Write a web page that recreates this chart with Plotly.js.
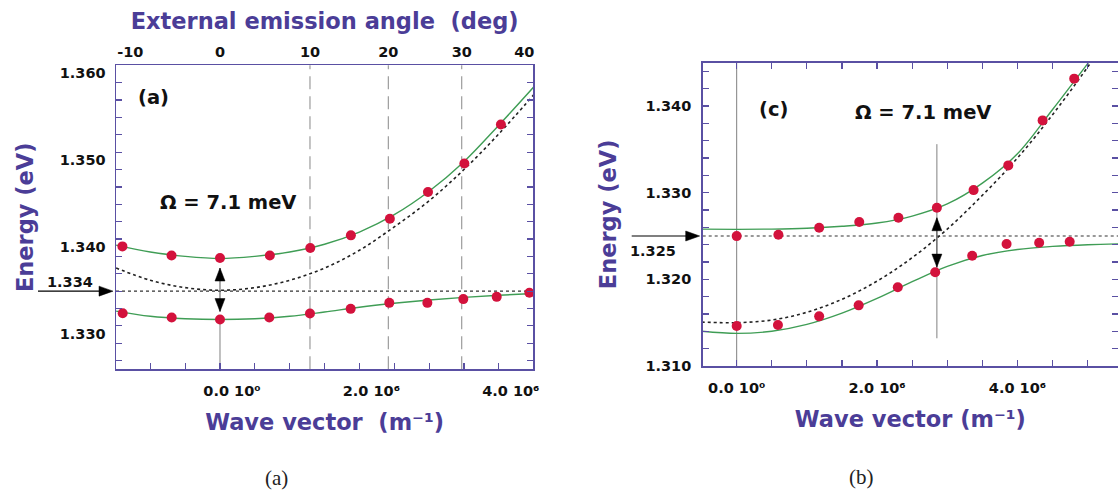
<!DOCTYPE html>
<html>
<head>
<meta charset="utf-8">
<script src="https://cdn.plot.ly/plotly-3.0.1.min.js"></script>
<style>
  html, body { margin: 0; padding: 0; background: #ffffff; }
  #chart { width: 1118px; height: 493px; }
</style>
</head>
<body>
<div id="chart"></div>
<script>
// Wave vectors are given in units of 10^6 m^-1, energies in eV.

// ---------- Panel (a) ----------
const waveVectorUpperA = [-1.400, -0.695, 0.000, 0.715, 1.295, 1.878, 2.437, 2.984, 3.506, 4.030];
const energyUpperA     = [1.33915, 1.33811, 1.33781, 1.33811, 1.33896, 1.34042, 1.34234, 1.34542, 1.34869, 1.35318];
const waveVectorLowerA = [-1.396, -0.693, 0.000, 0.707, 1.291, 1.875, 2.429, 2.975, 3.491, 3.970, 4.439];
const energyLowerA     = [1.33146, 1.33096, 1.33073, 1.33096, 1.33142, 1.33196, 1.33265, 1.33265, 1.33308, 1.33334, 1.33381];

const waveVectorFitA = [-1.49, -1.0, -0.5, 0.0, 0.5, 1.0, 1.5, 2.0, 2.5, 3.0, 3.5, 4.0, 4.5];
const upperFitA      = [1.33930, 1.33850, 1.33800, 1.33775, 1.33800, 1.33850, 1.33940, 1.34080, 1.34280, 1.34550, 1.34890, 1.35310, 1.35750];
const lowerFitA      = [1.33170, 1.33110, 1.33082, 1.33073, 1.33082, 1.33110, 1.33160, 1.33215, 1.33260, 1.33298, 1.33328, 1.33352, 1.33373];
const cavityFitA     = [1.33666, 1.33525, 1.33440, 1.33410, 1.33440, 1.33525, 1.33665, 1.33870, 1.34140, 1.34440, 1.34800, 1.35210, 1.35660];

const excitonA = 1.334;
const angleLabelsA = ['-10', '0', '10', '20', '30', '40'];
const angleWaveVectorA = [-1.286, 0.0, 1.291, 2.415, 3.468, 4.366];
const guideAnglesA = ['10', '20', '30'];

// ---------- Panel (b) ----------
const waveVectorUpperB = [0.000, 0.594, 1.175, 1.746, 2.304, 2.852, 3.375, 3.869, 4.358, 4.808];
const energyUpperB     = [1.32499, 1.32515, 1.32596, 1.32661, 1.32711, 1.32827, 1.33030, 1.33315, 1.33834, 1.34316];
const waveVectorLowerB = [0.000, 0.588, 1.175, 1.738, 2.295, 2.828, 3.355, 3.845, 4.309, 4.744];
const energyLowerB     = [1.31461, 1.31473, 1.31573, 1.31700, 1.31908, 1.32081, 1.32272, 1.32407, 1.32422, 1.32434];

const waveVectorFitB = [-0.5, 0.0, 0.5, 1.0, 1.5, 2.0, 2.5, 3.0, 3.5, 4.0, 4.5, 5.0, 5.5];
const upperFitB      = [1.32579, 1.32577, 1.32580, 1.32590, 1.32612, 1.32650, 1.32730, 1.32870, 1.33110, 1.33450, 1.33960, 1.34490, 1.35030];
const lowerFitB      = [1.31401, 1.31377, 1.31401, 1.31480, 1.31610, 1.31780, 1.31973, 1.32150, 1.32275, 1.32345, 1.32380, 1.32400, 1.32410];
const cavityFitB     = [1.31507, 1.31500, 1.31530, 1.31620, 1.31770, 1.31980, 1.32250, 1.32580, 1.32970, 1.33400, 1.33900, 1.34450, 1.35050];

const excitonB = 1.325;
const resonanceLineB = { k: 2.852, from: 1.3132, to: 1.3356 };

// ---------- Shared text ----------
const rabiLabel = '\u03A9 = 7.1 meV';
const waveVectorTickValues = [0, 2, 4];
const waveVectorTickLabels = ['0.0 10\u2070', '2.0 10\u2076', '4.0 10\u2076'];
const energyTickValuesA = [1.330, 1.340, 1.350, 1.360];
const energyTickValuesB = [1.310, 1.320, 1.330, 1.340];

// ---------- Styling ----------
const W = 1118, H = 493;
const frameColor = '#5a50a3';
const titleColor = '#4b3d97';
const dotColor = '#d3123c';
const fitColor = '#3f9d55';
const sans = 'DejaVu Sans, Liberation Sans, Arial, sans-serif';
const tickFont = { family: sans, size: 14.5, color: '#111111', weight: 700 };
const titleFont = { family: sans, size: 22.5, color: titleColor, weight: 700 };
const noteFont = { family: sans, size: 19.5, color: '#111111', weight: 700 };
const serif = { family: 'Liberation Serif, Times New Roman, serif', size: 21, color: '#222222' };

// pixel box of each plotting frame
const boxA = { left: 116, right: 533.3, top: 65.3, bottom: 369.3 };
const boxB = { left: 702.7, right: 1118, top: 62.7, bottom: 366.0 };
const rangeXA = [-1.492, 4.495], rangeYA = [1.325, 1.360];
const rangeXB = [-0.484, 5.432], rangeYB = [1.310, 1.345];

function domX(b) { return [b.left / W, b.right / W]; }
function domY(b) { return [1 - b.bottom / H, 1 - b.top / H]; }

function baseAxis(extra) {
  return Object.assign({
    showgrid: false, zeroline: false, showline: true,
    linecolor: frameColor, linewidth: 1.5,
    ticks: 'inside', ticklen: 6, tickwidth: 1.2, tickcolor: frameColor,
    tickmode: 'array', tickfont: tickFont, automargin: false
  }, extra);
}
function minorTicks(tick0, dtick) {
  return { tick0, dtick, ticks: 'inside', ticklen: 6, tickwidth: 1.2, tickcolor: frameColor, showgrid: false };
}

const dotted = { color: '#222222', width: 1.6, dash: 'dot', shape: 'spline', smoothing: 1 };
const fitLine = { color: fitColor, width: 1.4, shape: 'spline', smoothing: 1 };
const dotMarker = { color: dotColor, size: 10 };

function panelTraces(xa, ya, kFit, cav, up, low, kUp, eUp, kLow, eLow) {
  return [
    { x: kFit, y: cav, xaxis: xa, yaxis: ya, mode: 'lines', line: dotted, name: 'cavity', hoverinfo: 'skip' },
    { x: kFit, y: up, xaxis: xa, yaxis: ya, mode: 'lines', line: fitLine, name: 'upper fit' },
    { x: kFit, y: low, xaxis: xa, yaxis: ya, mode: 'lines', line: fitLine, name: 'lower fit' },
    { x: kUp, y: eUp, xaxis: xa, yaxis: ya, mode: 'markers', marker: dotMarker, name: 'upper branch', cliponaxis: true },
    { x: kLow, y: eLow, xaxis: xa, yaxis: ya, mode: 'markers', marker: dotMarker, name: 'lower branch', cliponaxis: true }
  ];
}

const traces = [
  ...panelTraces('x', 'y', waveVectorFitA, cavityFitA, upperFitA, lowerFitA,
                 waveVectorUpperA, energyUpperA, waveVectorLowerA, energyLowerA),
  ...panelTraces('x2', 'y2', waveVectorFitB, cavityFitB, upperFitB, lowerFitB,
                 waveVectorUpperB, energyUpperB, waveVectorLowerB, energyLowerB),
  // carries the emission-angle scale along the top of panel (a)
  { x: [], y: [], xaxis: 'x3', yaxis: 'y', mode: 'markers', hoverinfo: 'skip' }
];

const grey = '#808080';
const shapes = [];
// constant-angle guides in panel (a)
guideAnglesA.forEach(a => {
  const k = angleWaveVectorA[angleLabelsA.indexOf(a)];
  shapes.push({ type: 'line', xref: 'x', yref: 'y domain', x0: k, x1: k, y0: 0, y1: 1,
                line: { color: '#939393', width: 1.1, dash: '13px,7px' }, layer: 'below' });
});
// exciton levels
shapes.push({ type: 'line', xref: 'x domain', yref: 'y', x0: 0, x1: 1, y0: excitonA, y1: excitonA,
              line: { color: '#333333', width: 1.2, dash: 'dot' }, layer: 'below' });
shapes.push({ type: 'line', xref: 'x2 domain', yref: 'y2', x0: 0, x1: 1, y0: excitonB, y1: excitonB,
              line: { color: '#333333', width: 1.2, dash: 'dot' }, layer: 'below' });
// k = 0 markers
const k0LowerA = energyLowerA[waveVectorLowerA.indexOf(0)];
shapes.push({ type: 'line', xref: 'x', yref: 'y', x0: 0, x1: 0, y0: rangeYA[0], y1: k0LowerA,
              line: { color: grey, width: 1 }, layer: 'below' });
shapes.push({ type: 'line', xref: 'x2', yref: 'y2 domain', x0: 0, x1: 0, y0: 0, y1: 1,
              line: { color: grey, width: 1 }, layer: 'below' });
shapes.push({ type: 'line', xref: 'x2', yref: 'y2', x0: resonanceLineB.k, x1: resonanceLineB.k,
              y0: resonanceLineB.from, y1: resonanceLineB.to, line: { color: grey, width: 1 }, layer: 'below' });

// arrowheads drawn as small pixel-sized triangles anchored at their tips
const ink = '#000000';
function head(xref, yref, x, y, path) {
  return { type: 'path', xref, yref, xsizemode: 'pixel', ysizemode: 'pixel', xanchor: x, yanchor: y,
           path, fillcolor: ink, line: { color: ink, width: 0.5 } };
}
// vertical double arrow showing the splitting between the two branches
function splitArrow(xref, yref, k, top, bottom) {
  shapes.push({ type: 'line', xref, yref, x0: k, x1: k, y0: bottom, y1: top, line: { color: '#555555', width: 1 } });
  shapes.push(head(xref, yref, k, top, 'M0,0 L-5,-13 L5,-13 Z'));
  shapes.push(head(xref, yref, k, bottom, 'M0,0 L-5,13 L5,13 Z'));
}
// horizontal arrow pointing at an exciton level from outside the frame
function levelArrow(xref, yref, e, len) {
  shapes.push({ type: 'path', xref, yref, xsizemode: 'pixel', ysizemode: 'pixel', xanchor: 0, yanchor: e,
                path: 'M' + (-len) + ',0 L-14,0', line: { color: ink, width: 1.1 } });
  shapes.push(head(xref, yref, 0, e, 'M-3,0 L-17,-5 L-17,5 Z'));
}

const k0UpperA = energyUpperA[waveVectorUpperA.indexOf(0)];
const resUpperB = energyUpperB[5], resLowerB = energyLowerB[5];
splitArrow('x', 'y', 0, k0UpperA - 0.00115, k0LowerA + 0.00092);
splitArrow('x2', 'y2', resonanceLineB.k, resUpperB - 0.00116, resLowerB + 0.0006);
levelArrow('x domain', 'y', excitonA, 78);
levelArrow('x2 domain', 'y2', excitonB, 71);

function note(x, y, text, font, extra) {
  return Object.assign({ xref: 'paper', yref: 'paper', x: x / W, y: 1 - y / H, text, font,
                         showarrow: false, xanchor: 'center', yanchor: 'middle' }, extra || {});
}

const annotations = [
  { xref: 'x domain', yref: 'y', x: 0, y: excitonA, xshift: -21, yshift: 9, xanchor: 'right', yanchor: 'middle',
    text: excitonA.toFixed(3), font: Object.assign({}, tickFont), showarrow: false },
  { xref: 'x2 domain', yref: 'y2', x: 0, y: excitonB, xshift: -25, yshift: -15, xanchor: 'right', yanchor: 'middle',
    text: excitonB.toFixed(3), font: Object.assign({}, tickFont), showarrow: false },
  note(153.6, 97, '(a)', noteFont),
  note(227.5, 202, rabiLabel, noteFont),
  note(773, 110, '(c)', noteFont),
  note(923, 112, rabiLabel, noteFont),
  note(276, 478, '(a)', serif),
  note(861, 477, '(b)', serif)
];

const layout = {
  width: W, height: H,
  margin: { l: 0, r: 0, t: 0, b: 0, pad: 0 },
  paper_bgcolor: '#ffffff', plot_bgcolor: '#ffffff',
  showlegend: false,
  xaxis: baseAxis({ domain: domX(boxA), anchor: 'y', range: rangeXA, mirror: true,
                    tickvals: waveVectorTickValues, ticktext: waveVectorTickLabels,
                    minor: minorTicks(0, 0.5), ticklabelshift: 12, ticklabelstandoff: 8,
                    title: { text: 'Wave vector\u00a0 (m\u207B\u00B9)', font: titleFont, standoff: 16 } }),
  yaxis: baseAxis({ domain: domY(boxA), anchor: 'x', range: rangeYA, mirror: 'ticks',
                    tickvals: energyTickValuesA, ticktext: energyTickValuesA.map(v => v.toFixed(3)),
                    minor: minorTicks(1.330, 0.002), ticklabelshift: 8, ticklabelstandoff: 6,
                    title: { text: 'Energy (eV)', font: titleFont, standoff: 20 } }),
  xaxis3: { overlaying: 'x', anchor: 'y', side: 'top', range: rangeXA, showgrid: false, zeroline: false,
            showline: false, ticks: '', tickmode: 'array', tickvals: angleWaveVectorA, ticktext: angleLabelsA,
            tickfont: tickFont, automargin: false, ticklabelstandoff: 4,
            title: { text: 'External emission angle\u00a0 (deg)', font: titleFont, standoff: 8 } },
  xaxis2: baseAxis({ domain: domX(boxB), anchor: 'y2', range: rangeXB, mirror: 'ticks',
                     tickvals: waveVectorTickValues, ticktext: waveVectorTickLabels,
                     minor: minorTicks(0, 0.5), ticklabelstandoff: 8,
                     title: { text: 'Wave vector (m\u207B\u00B9)', font: titleFont, standoff: 16 } }),
  yaxis2: baseAxis({ domain: domY(boxB), anchor: 'x2', range: rangeYB, mirror: 'ticks',
                     tickvals: energyTickValuesB, ticktext: energyTickValuesB.map(v => v.toFixed(3)),
                     minor: minorTicks(1.310, 0.002), ticklabelstandoff: 7,
                     title: { text: 'Energy (eV)', font: titleFont, standoff: 22 } }),
  shapes, annotations
};

Plotly.newPlot('chart', traces, layout, { displayModeBar: false, staticPlot: true });
</script>
</body>
</html>
